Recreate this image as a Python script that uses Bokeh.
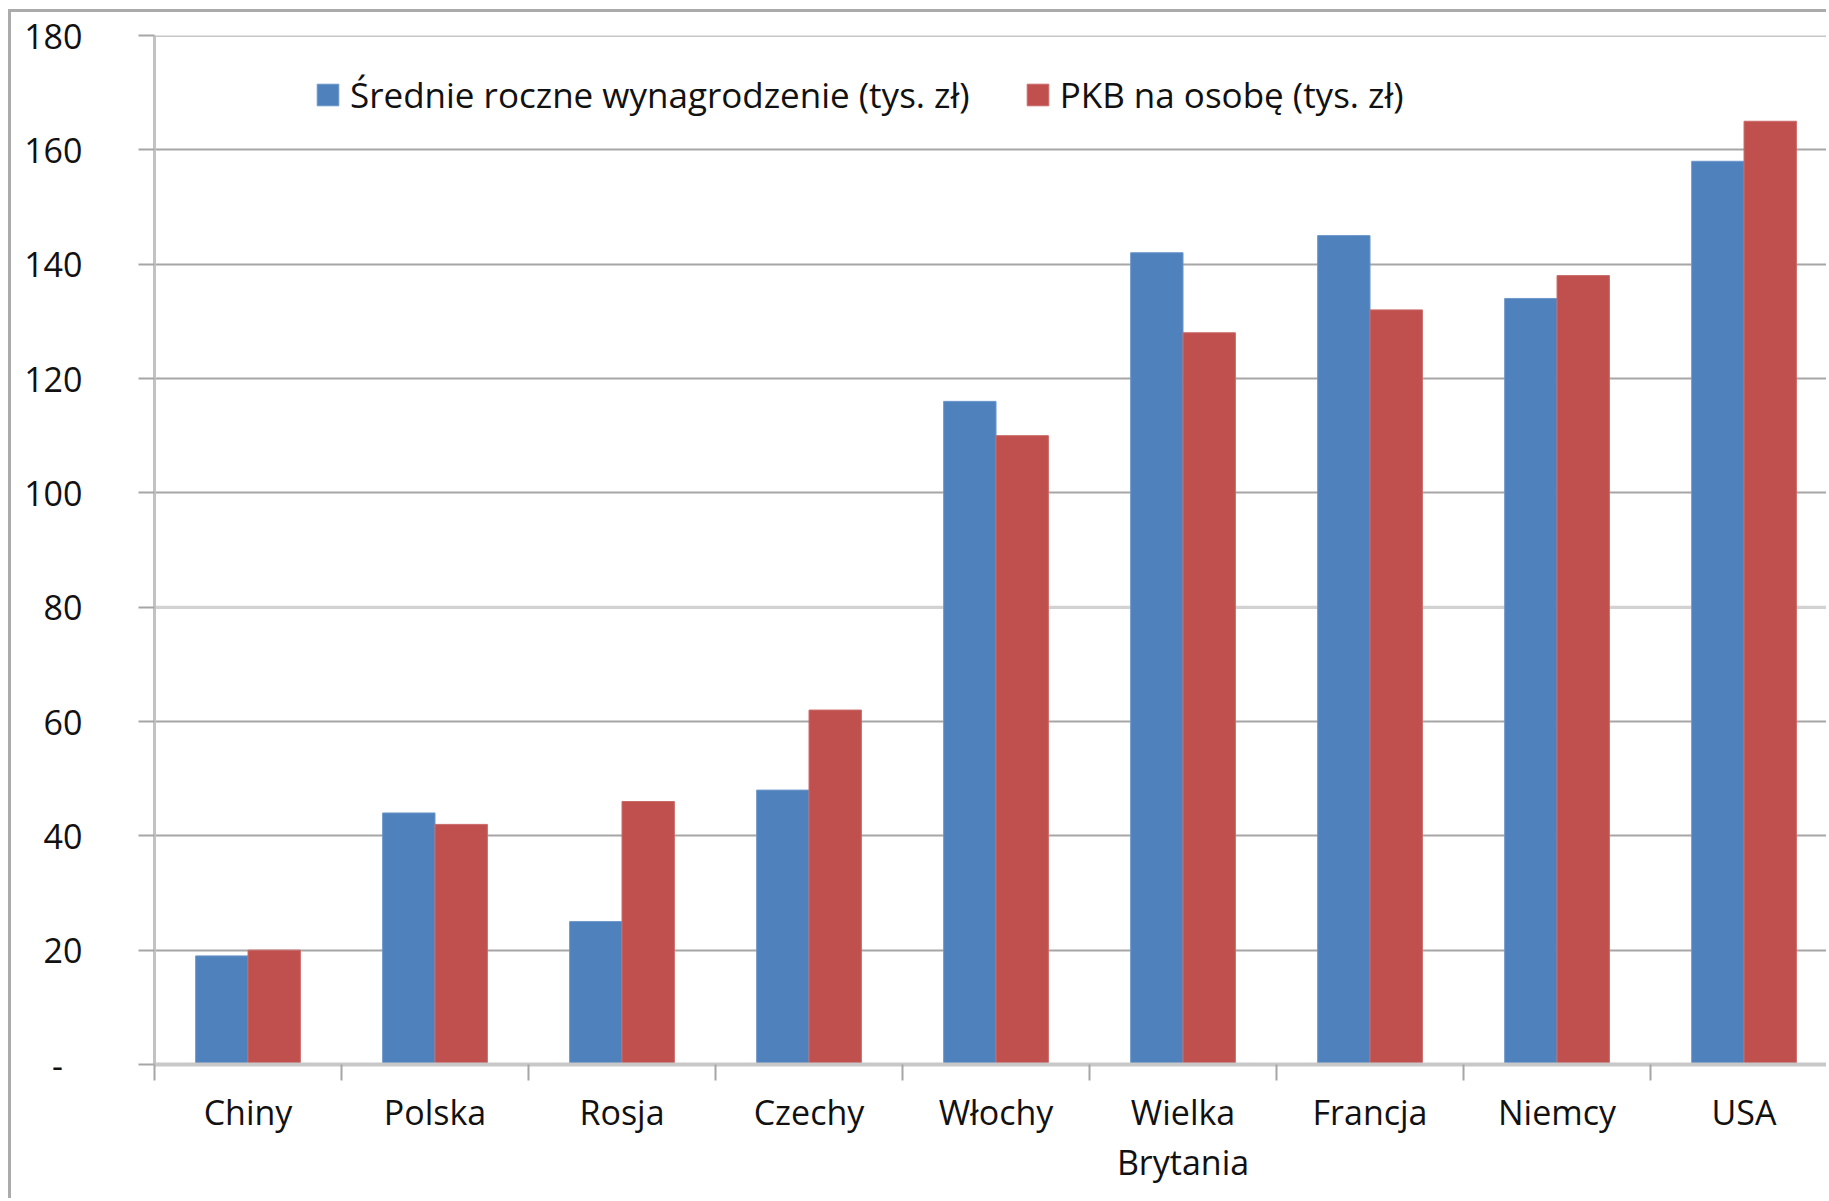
from bokeh.plotting import figure
from bokeh.models import Range1d, FixedTicker, Legend, LegendItem, Span
from bokeh.transform import dodge
from bokeh.embed import file_html
from bokeh.resources import INLINE
from bokeh.models import ColumnDataSource

categories = ["Chiny", "Polska", "Rosja", "Czechy", "Włochy", "Wielka\nBrytania", "Francja", "Niemcy", "USA"]
wynagrodzenie = [19, 44, 25, 48, 116, 142, 145, 134, 158]
pkb = [20, 42, 46, 62, 110, 128, 132, 138, 165]
y_ticks = [0, 20, 40, 60, 80, 100, 120, 140, 160, 180]
series_names = ["Średnie roczne wynagrodzenie (tys. zł)", "PKB na osobę (tys. zł)"]

FONT = "Open Sans"
FS = "34px"
BLUE = "#4f81bd"
RED = "#c0504d"

idx = list(range(len(categories)))
src = ColumnDataSource(dict(x=idx, cat=categories, w=wynagrodzenie, p=pkb))

p = figure(width=1818, height=1189, output_backend="svg", toolbar_location=None,
           x_range=Range1d(-0.5, len(categories) - 0.543), y_range=Range1d(0, 180),
           min_border_left=143, min_border_right=0, min_border_top=23, min_border_bottom=137)
p.styles = {"margin-left": "8px", "margin-top": "9px",
            "border-top": "3px solid #ababab", "border-left": "3px solid #ababab"}

r1 = p.vbar(x=dodge("x", -0.14), top="w", width=0.28, source=src,
            fill_color=BLUE, line_color="#6d97cb", line_width=1)
r2 = p.vbar(x=dodge("x", 0.14), top="p", width=0.28, source=src,
            fill_color=RED, line_color="#c96a68", line_width=1)

p.outline_line_color = None
p.background_fill_color = "white"
p.border_fill_color = "white"

# grid
p.xgrid.visible = False
p.ygrid.ticker = FixedTicker(ticks=y_ticks)
p.ygrid.grid_line_color = "#a6a6a6"
p.ygrid.grid_line_width = 2
p.ygrid.level = "underlay"
for yv, col in [(180, "#c6c6c6"), (80, "#d2d2d2")]:
    p.add_layout(Span(location=yv, dimension="width", line_color=col, line_width=3, level="underlay"))

# y axis
ya = p.yaxis[0]
ya.ticker = FixedTicker(ticks=y_ticks)
ya.major_label_overrides = {0: "-\u2007"}
ya.axis_line_color = "#c2c2c2"
ya.axis_line_width = 3
ya.major_tick_line_color = "#a6a6a6"
ya.major_tick_line_width = 2
ya.major_tick_out = 16
ya.major_tick_in = 0
ya.minor_tick_out = 0
ya.minor_tick_in = 0
ya.major_label_standoff = 56
ya.major_label_text_font = FONT
ya.major_label_text_font_size = FS
ya.major_label_text_color = "#111111"

# x axis
xa = p.xaxis[0]
xa.ticker = FixedTicker(ticks=idx, minor_ticks=[i - 0.5 for i in idx] + [len(idx) - 0.5])
xa.major_label_overrides = {i: c for i, c in zip(idx, categories)}
xa.axis_line_color = "#c8c8c8"
xa.axis_line_width = 4
xa.major_tick_out = 0
xa.major_tick_in = 0
xa.minor_tick_out = 16
xa.minor_tick_in = 0
xa.minor_tick_line_color = "#a6a6a6"
xa.minor_tick_line_width = 2
xa.major_label_standoff = 8
xa.major_label_text_font = FONT
xa.major_label_text_font_size = FS
xa.major_label_text_color = "#111111"
xa.major_label_text_line_height = 1.1

legend = Legend(items=[LegendItem(label=series_names[0], renderers=[r1]),
                       LegendItem(label=series_names[1], renderers=[r2])],
                orientation="horizontal", location=(160, 946),
                glyph_width=27, glyph_height=27, label_standoff=9, spacing=54,
                padding=0, margin=0, border_line_color=None, background_fill_alpha=0,
                label_text_font=FONT, label_text_font_size="35px", label_text_color="#111111",
                label_height=35)
p.add_layout(legend, "center")

open("out.html", "w").write(file_html(p, INLINE))
